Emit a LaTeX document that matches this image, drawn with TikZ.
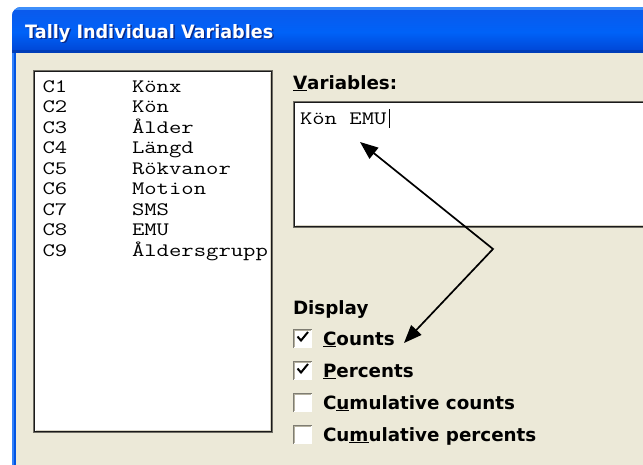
\documentclass[tikz,border=0pt]{standalone}
\usepackage{fontspec}
\setmainfont{DejaVu Sans}
\usetikzlibrary{arrows.meta}

\definecolor{xpface}{HTML}{ECE9D8}
\definecolor{xpblue}{HTML}{0054E3}
\definecolor{xpbluehi}{HTML}{3D8EFA}
\definecolor{xpbluetop}{HTML}{0A5AEC}
\definecolor{xpbluemid}{HTML}{0062F8}
\definecolor{xpbluelow}{HTML}{0048D8}
\definecolor{titleshadow}{HTML}{0A2A8A}
\definecolor{frameout}{HTML}{6F6D64}
\definecolor{framein}{HTML}{1A1A1A}
\definecolor{framelite}{HTML}{D9D5C6}
\definecolor{chkgrey}{HTML}{7E7C72}
\definecolor{chklite}{HTML}{B5B1A0}

\newcommand\dlgfont{\fontsize{18.3pt}{18.3pt}\selectfont\bfseries}
\newcommand\listfont{\ttfamily\fontsize{19pt}{19pt}\selectfont}
% typewriter text stretched to the 12.6pt character pitch of the list
\newcommand\mtext[1]{\scalebox{1.263}[1]{#1}}

\tikzset{
  lbl/.style={anchor=base west, inner sep=0pt, outer sep=0pt, font=\dlgfont, text=black},
  mono/.style={anchor=base west, inner sep=0pt, outer sep=0pt, font=\listfont, text=black},
  pointer/.style={draw=black, line width=1.7pt,
    {Triangle[length=18pt,width=14pt]}-{Triangle[length=18pt,width=14pt]}},
  tick/.style={draw=black, line width=2pt, line cap=butt, line join=miter},
}

% check box with top-left corner at (#1,#2)
\newcommand\chkbox[3]{%
  \fill[white] (#1,#2) rectangle ++(19,19);
  \draw[chkgrey, line width=1.2pt] (#1+0.6,#2+18.5) -- (#1+0.6,#2+0.6) -- (#1+18.5,#2+0.6);
  \draw[chklite, line width=1pt] (#1+1.8,#2+17.5) -- (#1+1.8,#2+1.8) -- (#1+17.5,#2+1.8);
  \draw[white, line width=1pt] (#1+0.5,#2+18.5) -- (#1+18.5,#2+18.5) -- (#1+18.5,#2+0.5);
  \coordinate (#3) at (#1,#2);
}

\begin{document}
\begin{tikzpicture}[x=1pt,y=-1pt]
\useasboundingbox (0,0) rectangle (643,464);
\clip (0,0) rectangle (643,464);
\fill[white] (0,0) rectangle (643,464);

% window frame with rounded upper left corner
\fill[xpblue, rounded corners=9pt] (12,500) -- (12,7) -- (700,7) -- (700,500) -- cycle;
\begin{scope}
  \clip[rounded corners=9pt] (12,500) -- (12,7) -- (700,7) -- (700,500) -- cycle;
  \fill[xpbluehi] (12,7) rectangle (700,10);
  \shade[top color=xpbluetop, bottom color=xpbluemid] (12,10) rectangle (700,32);
  \shade[top color=xpbluemid, bottom color=xpbluelow] (12,32) rectangle (700,50);
  \fill[xpbluelow!85!black] (12,50) rectangle (700,53);
  \fill[xpbluemid!80!white] (12,53) rectangle (14,500);
\end{scope}

% dialog face
\fill[xpface] (16,53) rectangle (700,500);

% title
\node[anchor=base west, inner sep=0pt, text=titleshadow]
  at (26.5,39.5) {\resizebox{248pt}{14pt}{\bfseries Tally Individual Variables}};
\node[anchor=base west, inner sep=0pt, text=white] (title)
  at (25,38) {\resizebox{248pt}{14pt}{\bfseries Tally Individual Variables}};

% column list
\fill[white] (33,70) rectangle (273,433);
\draw[frameout, line width=1pt] (33.5,70.5) rectangle (272.5,432.5);
\draw[framein, line width=1.2pt] (34.6,71.6) rectangle (271.4,431.4);
\draw[framelite, line width=1pt] (36,430) -- (270,430) -- (270,73);
\begin{scope}
  \clip (36,73) rectangle (269.5,430);
  \foreach \i/\c/\n in {0/C1/Könx, 1/C2/Kön, 2/C3/Ålder, 3/C4/Längd, 4/C5/Rökvanor,
                        5/C6/Motion, 6/C7/SMS, 7/C8/EMU, 8/C9/Åldersgrupp} {
    \node[mono] (col\i) at (42.5,{92+20.5*\i}) {\mtext{\c}};
    \node[mono] (name\i) at (132,{92+20.5*\i}) {\mtext{\n}};
  }
\end{scope}

% variables field
\node[lbl] (varlbl) at (293,89) {\underline{V}ariables:};
\fill[white] (293,101) rectangle (700,228);
\draw[frameout, line width=1pt] (293.5,101.5) rectangle (700,227.5);
\draw[framein, line width=1.2pt] (294.6,102.6) rectangle (700,226.4);
\draw[framelite, line width=1pt] (296,225) -- (700,225);
\node[mono] (vars) at (300,124) {\mtext{Kön EMU}};
\draw[black, line width=1pt] (389,109) -- (389,128);

% display options
\node[lbl] (display) at (293,314) {Display};
\chkbox{293}{329}{b1}
\chkbox{293}{361}{b2}
\chkbox{293}{393}{b3}
\chkbox{293}{425}{b4}
\draw[tick] (297.5,336.5) -- (301,340.5) -- (308,332);
\draw[tick] (297.5,368.5) -- (301,372.5) -- (308,364);
\node[lbl] (counts) at (323,345) {\underline{C}ounts};
\node[lbl] (pct) at (323,377) {\underline{P}ercents};
\node[lbl] (cumc) at (323,409) {C\underline{u}mulative counts};
\node[lbl] (cump) at (323,441) {Cu\underline{m}ulative percents};

% pointers
\coordinate (tipvars) at (360,142);
\coordinate (bend) at (493,249);
\coordinate (tipcounts) at (404,343);
\draw[pointer, line join=miter] (tipvars) -- (bend) -- (tipcounts);
\end{tikzpicture}
\end{document}
